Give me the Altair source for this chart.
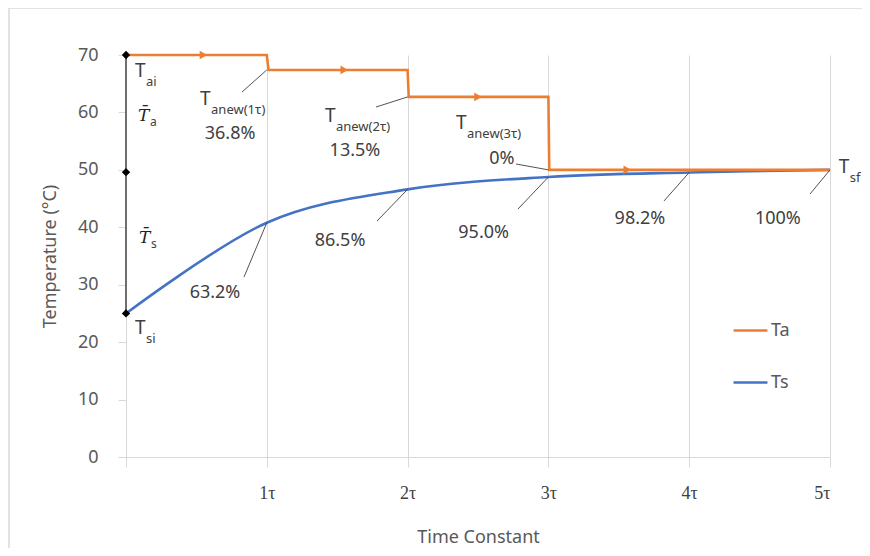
import json
import altair as alt
import pandas as pd

# ---------------- data ----------------
tau_points = [0, 1, 2, 3, 4, 5]
x_tick_labels = ["", "1τ", "2τ", "3τ", "4τ", "5τ"]
y_ticks = [0, 10, 20, 30, 40, 50, 60, 70]

ts_times = [0, 1, 2, 3, 4, 5]
ts_values = [25.0, 40.8, 46.6, 48.75, 49.55, 50.0]

ta_times = [0, 1, 1.012, 2, 2.008, 3, 3.006, 5]
ta_values = [70, 70, 67.4, 67.4, 62.7, 62.7, 50, 50]

arrow_times = [0.55, 1.55, 2.5, 3.56]
arrow_values = [70, 67.4, 62.7, 50]

marker_values = [70, 49.6, 25]
bracket_low = [25]
bracket_high = [70]

pct_labels = ["36.8%", "13.5%", "0%", "63.2%", "86.5%", "95.0%", "98.2%", "100%"]
pct_x = [0.739, 1.626, 2.670, 0.632, 1.52, 2.54, 3.65, 4.63]
pct_y = [56.24, 53.28, 51.89, 28.56, 37.61, 39.0, 41.44, 41.44]

leader_x = [1, 2, 3, 1, 2, 3, 4, 5]
leader_y = [67.4, 62.7, 50, 40.8, 46.6, 48.75, 49.55, 50]
leader_x2 = [0.824, 1.776, 2.770, 0.838, 1.783, 2.784, 3.821, 4.858]
leader_y2 = [63.56, 60.94, 51.02, 31.34, 41.09, 43.18, 44.58, 45.79]

t_main = ["T", "T", "T", "T", "T", "T"]
t_sub = ["ai", "si", "anew(1τ)", "anew(2τ)", "anew(3τ)", "sf"]
t_x = [0.064, 0.064, 0.526, 1.413, 2.344, 5.062]
t_y = [67.2, 22.46, 62.34, 59.38, 58.16, 50.5]

bar_main = ["T\u0304", "T\u0304"]
bar_sub = ["a", "s"]
bar_x = [0.085, 0.092]
bar_y = [59.4, 38.13]

series_names = ["Ta", "Ts"]
series_colors = ["#ED7D31", "#4472C4"]

# ---------------- tables ----------------
ta_df = pd.DataFrame({"t": ta_times, "v": ta_values, "series": "Ta"})
ts_df = pd.DataFrame({"t": ts_times, "v": ts_values, "series": "Ts"})
arrow_df = pd.DataFrame({"t": arrow_times, "v": arrow_values})
marker_df = pd.DataFrame({"t": [0] * len(marker_values), "v": marker_values})
bracket_df = pd.DataFrame({"t": [0], "v": bracket_low, "v2": bracket_high})
pct_df = pd.DataFrame({"t": pct_x, "v": pct_y, "label": pct_labels})
leader_df = pd.DataFrame({"t": leader_x, "v": leader_y, "t2": leader_x2, "v2": leader_y2})
tlab_df = pd.DataFrame({"t": t_x, "v": t_y, "main": t_main, "sub": t_sub})
bar_df = pd.DataFrame({"t": bar_x, "v": bar_y, "main": bar_main, "sub": bar_sub})
one_df = pd.DataFrame({"a": [0]})

FONT = "Noto Sans"
TXT = "#404040"
GRID = "#d9d9d9"

xs = alt.Scale(domain=[0, 5], nice=False, zero=False)
ys = alt.Scale(domain=[0, 70], nice=False)

xaxis = alt.Axis(
    values=tau_points, title="Time Constant", grid=True, gridColor=GRID,
    domainColor=GRID, tickColor=GRID, tickSize=10,
    labelExpr=json.dumps(x_tick_labels) + "[datum.value]",
    labelFont="Liberation Serif", labelFontSize=18, labelColor=TXT,
    labelPadding=17, titleFont=FONT, titleFontSize=18, titleColor="#595959",
    titleFontWeight="normal", titleX=352, titleY=80, titleBaseline="middle",
)
yaxis = alt.Axis(
    values=y_ticks, title="Temperature (°C)", grid=False,
    domainColor=GRID, tickColor=GRID, tickSize=8,
    labelFont=FONT, labelFontSize=18, labelColor="#595959", labelPadding=20,
    titleFont=FONT, titleFontSize=18, titleColor="#595959", titleFontWeight="normal",
    titleX=-76, titleY=201, titleAngle=-90, titleAlign="center", titleBaseline="middle",
)


def X(f="t"):
    return alt.X(f, type="quantitative", scale=xs, axis=xaxis)


def Y(f="v"):
    return alt.Y(f, type="quantitative", scale=ys, axis=yaxis)


color = alt.Color(
    "series:N",
    scale=alt.Scale(domain=series_names, range=series_colors),
    legend=alt.Legend(
        title=None, orient="none", legendX=606, legendY=257,
        symbolType="stroke", symbolSize=1150, symbolStrokeWidth=2.5,
        labelFont=FONT, labelFontSize=18, labelColor="#595959",
        rowPadding=24, labelOffset=2, padding=0,
    ),
)

grid_frame_top = alt.Chart(one_df).mark_rule(color=GRID, strokeWidth=1.5).encode(
    x=alt.value(-117), x2=alt.value(736), y=alt.value(-47)
)
grid_frame_left = alt.Chart(one_df).mark_rule(color=GRID, strokeWidth=1.5).encode(
    x=alt.value(-117), y=alt.value(-47), y2=alt.value(493)
)

bracket = alt.Chart(bracket_df).mark_rule(color="#6f6f6f", strokeWidth=2).encode(
    x=X(), y=Y(), y2="v2"
)

ts_line = alt.Chart(ts_df).mark_line(strokeWidth=2.6, interpolate="cardinal").encode(
    x=X(), y=Y(), color=color
)
ta_line = alt.Chart(ta_df).mark_line(strokeWidth=2.6).encode(
    x=X(), y=Y(), color=color
)

arrows = alt.Chart(arrow_df).mark_point(
    shape="triangle-right", filled=True, color="#ED7D31", opacity=1, size=75
).encode(x=X(), y=Y())

markers = alt.Chart(marker_df).mark_point(
    shape="diamond", filled=True, color="black", opacity=1, size=70
).encode(x=X(), y=Y())

leaders = alt.Chart(leader_df).mark_rule(color="#404040", strokeWidth=0.9).encode(
    x=X(), y=Y(), x2="t2", y2="v2"
)

pct_text = alt.Chart(pct_df).mark_text(
    font=FONT, fontSize=18, color=TXT, align="center", baseline="middle"
).encode(x=X(), y=Y(), text="label")

t_text = alt.Chart(tlab_df).mark_text(
    font=FONT, fontSize=19, color=TXT, align="left", baseline="middle"
).encode(x=X(), y=Y(), text="main")
t_sub_text = alt.Chart(tlab_df).mark_text(
    font=FONT, fontSize=13, color=TXT, align="left", baseline="middle", dx=11, dy=11
).encode(x=X(), y=Y(), text="sub")

bar_text = alt.Chart(bar_df).mark_text(
    font="DejaVu Serif", fontStyle="italic", fontSize=17, color="#202020",
    align="left", baseline="middle"
).encode(x=X(), y=Y(), text="main")
bar_sub_text = alt.Chart(bar_df).mark_text(
    font=FONT, fontSize=12, color=TXT, align="left", baseline="middle", dx=12, dy=6
).encode(x=X(), y=Y(), text="sub")

chart = alt.layer(
    grid_frame_top, grid_frame_left, bracket, ts_line, ta_line, arrows, markers,
    leaders, pct_text, t_text, t_sub_text, bar_text, bar_sub_text,
).properties(
    width=704, height=402,
    autosize=alt.AutoSizeParams(type="none"),
    padding={"left": 118, "top": 47, "right": 32, "bottom": 91},
).configure_view(stroke=None)

chart.save("out.html", embed_options={"renderer": "svg", "actions": False})
